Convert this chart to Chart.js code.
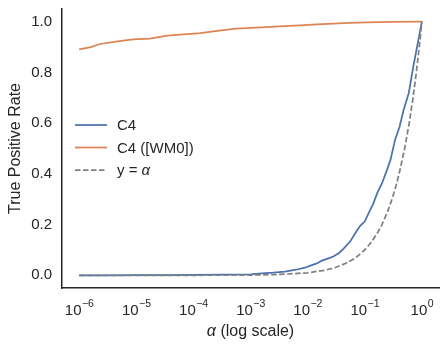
<!DOCTYPE html>
<html>
<head>
<meta charset="utf-8">
<script src="https://cdn.jsdelivr.net/npm/chart.js@4"></script>
<style>
  html, body { margin: 0; padding: 0; background: #fff; }
  #wrap { width: 448px; height: 351px; position: relative; }
</style>
</head>
<body>
<div id="wrap"><canvas id="roc"></canvas></div>
<script>
// C4 detector
const alphaC4 = [1e-6, 3.16e-6, 1e-5, 3.16e-5, 1e-4, 3.16e-4, 1e-3, 1.58e-3, 2.51e-3, 3.98e-3,
    6.31e-3, 8.91e-3, 0.0112, 0.0141, 0.0178, 0.0224, 0.0282, 0.0355, 0.0427, 0.0562,
    0.0676, 0.0832, 0.1, 0.120, 0.141, 0.166, 0.200, 0.240, 0.282, 0.339,
    0.407, 0.479, 0.589, 0.708, 0.871, 1.0]
const tprC4 = [0.000, 0.000, 0.001, 0.001, 0.002, 0.003, 0.004, 0.008, 0.011, 0.015,
    0.022, 0.030, 0.038, 0.046, 0.058, 0.066, 0.074, 0.088, 0.105, 0.135,
    0.165, 0.195, 0.212, 0.250, 0.283, 0.325, 0.362, 0.410, 0.455, 0.534,
    0.586, 0.652, 0.718, 0.823, 0.929, 1.0]

// C4 with [WM0]
const alphaWM0 = [1e-6, 1.6e-6, 2.34e-6, 4.68e-6, 8.9e-6, 1.74e-5, 3.47e-5, 6.8e-5, 1.32e-4, 2.63e-4,
    5.01e-4, 1.0e-3, 1.95e-3, 3.8e-3, 7.41e-3, 0.0145, 0.0282, 0.055, 0.110, 0.3, 1.0]
const tprWM0 = [0.891, 0.900, 0.912, 0.922, 0.930, 0.933, 0.945, 0.950, 0.955, 0.964,
    0.972, 0.976, 0.979, 0.982, 0.985, 0.989, 0.992, 0.995, 0.997, 0.999, 1.0]

// reference line y = alpha
const alphaRef = [1e-6, 1e-5, 1e-4, 1e-3, 0.003, 0.01, 0.02, 0.03, 0.05, 0.07,
    0.1, 0.13, 0.17, 0.2, 0.25, 0.3, 0.35, 0.4, 0.5, 0.6, 0.7, 0.8, 0.9, 1.0]
const tprRef = [1e-6, 1e-5, 1e-4, 1e-3, 0.003, 0.01, 0.02, 0.03, 0.05, 0.07,
    0.1, 0.13, 0.17, 0.2, 0.25, 0.3, 0.35, 0.4, 0.5, 0.6, 0.7, 0.8, 0.9, 1.0]

const xTicks = [1e-6, 1e-5, 1e-4, 1e-3, 1e-2, 1e-1, 1]
const xExponents = ['\u22126', '\u22125', '\u22124', '\u22123', '\u22122', '\u22121', '0']
const yTicks = [0, 0.2, 0.4, 0.6, 0.8, 1.0]

const family = '"Liberation Sans", Arial, sans-serif'
const ink = '#262626'

const pts = (xs, ys) => xs.map((x, i) => ({ x: x, y: ys[i] }))

// draw "plain" then italic "ital", starting at x (or centred when center is true)
function mixedText(ctx, plainBefore, ital, plainAfter, x, y, size, center) {
    ctx.font = size + 'px ' + family
    const w1 = ctx.measureText(plainBefore).width
    const w3 = ctx.measureText(plainAfter).width
    ctx.font = 'italic ' + size + 'px ' + family
    const w2 = ctx.measureText(ital).width
    let left = center ? x - (w1 + w2 + w3) / 2 : x
    ctx.textAlign = 'left'
    ctx.font = size + 'px ' + family
    ctx.fillText(plainBefore, left, y)
    ctx.font = 'italic ' + size + 'px ' + family
    ctx.fillText(ital, left + w1, y)
    ctx.font = size + 'px ' + family
    ctx.fillText(plainAfter, left + w1 + w2, y)
}

// draws 10^n tick labels, x title and the legend
const extras = {
    id: 'extras',
    afterDraw(chart) {
        const ctx = chart.ctx
        const sx = chart.scales.x
        const area = chart.chartArea
        ctx.save()
        ctx.fillStyle = ink
        ctx.textBaseline = 'alphabetic'
        xTicks.forEach((v, i) => {
            const px = sx.getPixelForValue(v)
            ctx.font = '15px ' + family
            const wb = ctx.measureText('10').width
            ctx.font = '10.5px ' + family
            const we = ctx.measureText(xExponents[i]).width
            const left = px - (wb + we) / 2
            ctx.font = '15px ' + family
            ctx.fillText('10', left, sx.top + 27)
            ctx.font = '10.5px ' + family
            ctx.fillText(xExponents[i], left + wb + 0.5, sx.top + 19)
        })

        // x axis title
        ctx.textBaseline = 'middle'
        mixedText(ctx, '', '\u03b1', ' (log scale)', (area.left + area.right) / 2, 332, 16, true)

        // legend
        const rows = [0, 1, 2]
        rows.forEach(i => {
            const ds = chart.data.datasets[i]
            const y = 125 + i * 22.5
            ctx.beginPath()
            ctx.strokeStyle = ds.borderColor
            ctx.lineWidth = ds.borderWidth
            ctx.setLineDash(ds.borderDash || [])
            ctx.moveTo(75, y)
            ctx.lineTo(107, y)
            ctx.stroke()
            ctx.setLineDash([])
            ctx.textBaseline = 'middle'
            if (i === 2) {
                mixedText(ctx, 'y = ', '\u03b1', '', 117, y + 1, 15, false)
            } else {
                ctx.font = '15px ' + family
                ctx.fillText(ds.label, 117, y + 1)
            }
        })
        ctx.restore()
    }
}

new Chart(document.getElementById('roc'), {
    type: 'line',
    data: {
        datasets: [
            {
                label: 'C4',
                data: pts(alphaC4, tprC4),
                borderColor: '#4c72b0',
                borderWidth: 1.75,
                order: 1
            },
            {
                label: 'C4 ([WM0])',
                data: pts(alphaWM0, tprWM0),
                borderColor: '#dd8452',
                borderWidth: 1.75,
                order: 2
            },
            {
                label: 'y = \u03b1',
                data: pts(alphaRef, tprRef),
                borderColor: '#808080',
                borderWidth: 1.75,
                borderDash: [5.5, 2.5],
                order: 0
            }
        ]
    },
    options: {
        responsive: true,
        maintainAspectRatio: false,
        animation: false,
        layout: { padding: { top: 9, right: 9, left: 0, bottom: 0 } },
        elements: {
            point: { radius: 0 },
            line: { tension: 0, fill: false }
        },
        plugins: {
            legend: { display: false },
            tooltip: { enabled: false }
        },
        scales: {
            x: {
                type: 'logarithmic',
                min: Math.pow(10, -6.3),
                max: Math.pow(10, 0.3),
                afterBuildTicks: s => { s.ticks = xTicks.map(v => ({ value: v })) },
                afterFit: s => { s.height = 63; s.paddingLeft = 0; s.paddingRight = 0 },
                grid: { display: false, drawTicks: false },
                border: { display: true, color: ink, width: 1.5 },
                ticks: { display: false },
                title: { display: false }
            },
            y: {
                min: -0.05,
                max: 1.05,
                afterBuildTicks: s => { s.ticks = yTicks.map(v => ({ value: v })) },
                afterFit: s => { s.width = 62; s.paddingTop = 0; s.paddingBottom = 0 },
                grid: { display: false, drawTicks: false },
                border: { display: true, color: ink, width: 1.5 },
                ticks: {
                    padding: 10,
                    color: ink,
                    font: { family: family, size: 15 },
                    callback: v => v.toFixed(1)
                },
                title: {
                    display: true,
                    text: 'True Positive Rate',
                    color: ink,
                    font: { family: family, size: 16 },
                    padding: { top: 6, bottom: 0 }
                }
            }
        }
    },
    plugins: [extras]
})
</script>
</body>
</html>
